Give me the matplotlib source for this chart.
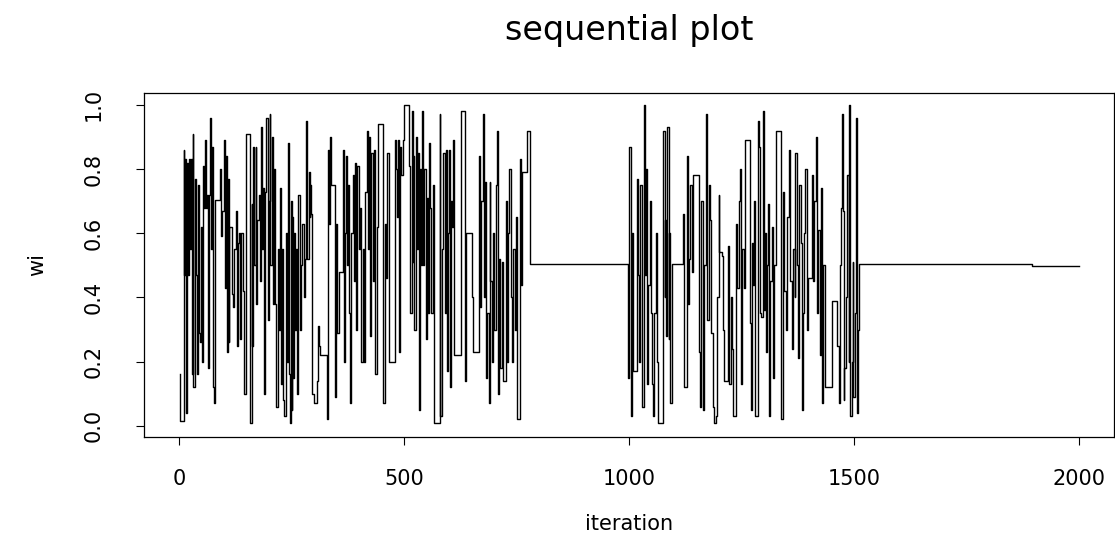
import matplotlib
matplotlib.use("Agg")
import matplotlib.pyplot as plt

# Step-plot data: iteration where each new value starts, and that value
change_iter = [
    1, 3, 10, 12, 14, 16, 18, 20, 22, 24, 26, 28, 30, 32, 35, 37, 40, 42, 45, 47,
    49, 51, 53, 55, 58, 60, 62, 64, 66, 69, 71, 73, 75, 77, 80, 92, 94, 96, 99, 101,
    104, 106, 108, 110, 112, 118, 120, 123, 126, 128, 131, 133, 135, 138, 141, 144, 148, 158, 161, 163,
    165, 167, 170, 172, 174, 177, 179, 182, 184, 186, 189, 191, 194, 197, 199, 201, 203, 206, 208, 211,
    213, 216, 219, 221, 224, 226, 229, 231, 234, 237, 239, 242, 244, 246, 248, 250, 252, 254, 256, 258,
    260, 262, 265, 268, 271, 274, 277, 280, 283, 285, 288, 290, 292, 294, 296, 299, 306, 308, 311, 313,
    328, 330, 333, 335, 337, 347, 349, 352, 355, 364, 366, 368, 371, 373, 376, 378, 380, 383, 386, 388,
    391, 394, 396, 399, 402, 405, 408, 411, 414, 417, 420, 422, 424, 427, 430, 433, 436, 439, 442, 454,
    457, 460, 463, 466, 479, 482, 485, 487, 489, 491, 494, 497, 499, 512, 514, 517, 519, 521, 523, 526,
    528, 530, 533, 536, 538, 541, 543, 545, 548, 551, 553, 556, 558, 561, 564, 567, 579, 581, 584, 587,
    590, 593, 595, 598, 600, 602, 604, 607, 609, 612, 627, 636, 638, 651, 653, 667, 669, 672, 675, 678,
    681, 683, 685, 688, 690, 692, 695, 698, 701, 704, 707, 709, 711, 714, 717, 719, 726, 728, 731, 734,
    737, 740, 743, 746, 749, 752, 757, 760, 763, 774, 779,
    998, 1001, 1004, 1007, 1009, 1018, 1021, 1023, 1025, 1028, 1030, 1033, 1035, 1038, 1041, 1043, 1046, 1049, 1051, 1053,
    1056, 1059, 1062, 1065, 1076, 1079, 1081, 1083, 1085, 1088, 1090, 1092, 1095, 1120, 1122, 1128, 1131, 1133, 1136, 1139,
    1142, 1155, 1158, 1161, 1164, 1167, 1171, 1174, 1177, 1180, 1183, 1186, 1188, 1193, 1196, 1199, 1201, 1207, 1210, 1212,
    1221, 1223, 1226, 1229, 1232, 1239, 1241, 1244, 1247, 1249, 1252, 1255, 1258, 1269, 1271, 1273, 1275, 1278, 1281, 1286,
    1289, 1291, 1293, 1297, 1300, 1302, 1304, 1307, 1309, 1311, 1314, 1317, 1320, 1323, 1327, 1337, 1339, 1342, 1345, 1349,
    1352, 1356, 1359, 1362, 1365, 1368, 1370, 1373, 1376, 1379, 1382, 1384, 1387, 1390, 1392, 1395, 1397, 1406, 1409, 1412,
    1415, 1418, 1421, 1424, 1426, 1428, 1431, 1435, 1451, 1463, 1466, 1469, 1471, 1473, 1475, 1477, 1479, 1482, 1485, 1488,
    1490, 1492, 1495, 1497, 1499, 1502, 1504, 1506, 1509, 1512, 1831, 1896, 2000,
]
change_val = [
    0.16, 0.015, 0.86, 0.47, 0.83, 0.04, 0.82, 0.47, 0.83, 0.55, 0.83, 0.16, 0.91, 0.12, 0.77, 0.47, 0.16, 0.75, 0.29, 0.26,
    0.62, 0.20, 0.81, 0.68, 0.89, 0.68, 0.72, 0.18, 0.72, 0.96, 0.55, 0.87, 0.12, 0.07, 0.705, 0.80, 0.59, 0.67, 0.89, 0.43,
    0.84, 0.23, 0.77, 0.26, 0.62, 0.41, 0.37, 0.55, 0.67, 0.25, 0.57, 0.60, 0.27, 0.60, 0.42, 0.10, 0.91, 0.01, 0.69, 0.25,
    0.87, 0.50, 0.87, 0.38, 0.64, 0.72, 0.45, 0.93, 0.55, 0.74, 0.10, 0.73, 0.96, 0.33, 0.70, 0.97, 0.50, 0.90, 0.38, 0.80,
    0.38, 0.06, 0.55, 0.30, 0.74, 0.13, 0.55, 0.08, 0.03, 0.60, 0.20, 0.88, 0.16, 0.01, 0.70, 0.05, 0.65, 0.15, 0.60, 0.30,
    0.55, 0.10, 0.72, 0.30, 0.50, 0.63, 0.40, 0.52, 0.95, 0.52, 0.79, 0.65, 0.75, 0.66, 0.10, 0.07, 0.14, 0.31, 0.25, 0.22,
    0.02, 0.86, 0.63, 0.90, 0.75, 0.09, 0.63, 0.29, 0.48, 0.86, 0.20, 0.60, 0.84, 0.50, 0.75, 0.35, 0.07, 0.60, 0.78, 0.45,
    0.82, 0.30, 0.81, 0.55, 0.68, 0.20, 0.55, 0.20, 0.73, 0.92, 0.55, 0.90, 0.28, 0.85, 0.45, 0.86, 0.16, 0.62, 0.94, 0.07,
    0.63, 0.46, 0.85, 0.20, 0.89, 0.80, 0.65, 0.89, 0.23, 0.87, 0.78, 0.89, 1.00, 0.81, 0.35, 0.98, 0.51, 0.84, 0.30, 0.90,
    0.55, 0.85, 0.05, 0.80, 0.50, 0.98, 0.50, 0.80, 0.27, 0.71, 0.35, 0.88, 0.68, 0.35, 0.75, 0.01, 0.97, 0.03, 0.55, 0.85,
    0.35, 0.86, 0.17, 0.60, 0.86, 0.12, 0.70, 0.62, 0.89, 0.22, 0.98, 0.14, 0.60, 0.40, 0.23, 0.84, 0.37, 0.70, 0.97, 0.40,
    0.76, 0.15, 0.35, 0.07, 0.76, 0.45, 0.20, 0.60, 0.30, 0.75, 0.92, 0.10, 0.52, 0.18, 0.51, 0.14, 0.70, 0.20, 0.60, 0.80,
    0.40, 0.20, 0.55, 0.30, 0.65, 0.02, 0.83, 0.44, 0.79, 0.92, 0.503,
    0.15, 0.87, 0.03, 0.60, 0.17, 0.77, 0.47, 0.20, 0.75, 0.30, 0.06, 1.00, 0.47, 0.80, 0.13, 0.44, 0.70, 0.35, 0.13, 0.03,
    0.35, 0.60, 0.20, 0.01, 0.92, 0.40, 0.64, 0.28, 0.93, 0.27, 0.60, 0.07, 0.503, 0.66, 0.12, 0.84, 0.38, 0.52, 0.75, 0.48,
    0.78, 0.23, 0.06, 0.70, 0.05, 0.50, 0.97, 0.33, 0.75, 0.64, 0.29, 0.06, 0.01, 0.03, 0.40, 0.72, 0.54, 0.53, 0.30, 0.14,
    0.56, 0.13, 0.40, 0.24, 0.03, 0.63, 0.43, 0.70, 0.80, 0.13, 0.55, 0.43, 0.89, 0.32, 0.05, 0.57, 0.44, 0.70, 0.03, 0.95,
    0.87, 0.35, 0.34, 0.98, 0.36, 0.60, 0.23, 0.50, 0.69, 0.03, 0.45, 0.62, 0.15, 0.50, 0.92, 0.58, 0.02, 0.73, 0.42, 0.30,
    0.65, 0.86, 0.45, 0.24, 0.55, 0.40, 0.85, 0.50, 0.21, 0.75, 0.57, 0.05, 0.35, 0.60, 0.80, 0.30, 0.46, 0.78, 0.45, 0.70,
    0.90, 0.35, 0.61, 0.22, 0.74, 0.07, 0.50, 0.12, 0.39, 0.25, 0.07, 0.50, 0.68, 0.97, 0.67, 0.08, 0.18, 0.40, 0.78, 0.20,
    1.00, 0.03, 0.20, 0.51, 0.09, 0.35, 0.96, 0.04, 0.30, 0.503, 0.505, 0.498, 0.498,
]

x_ticks = [0, 500, 1000, 1500, 2000]
x_tick_labels = ["0", "500", "1000", "1500", "2000"]
y_ticks = [0.0, 0.2, 0.4, 0.6, 0.8, 1.0]
y_tick_labels = ["0.0", "0.2", "0.4", "0.6", "0.8", "1.0"]

plt.rcParams["font.family"] = ["DejaVu Sans"]

fig = plt.figure(figsize=(11.15, 5.4), dpi=100)
W, H = 1115, 540
left, right, top, bottom = 144, 1113.5, 93, 437
ax = fig.add_axes([left / W, 1 - bottom / H, (right - left) / W, (bottom - top) / H])

ax.plot(change_iter, change_val, drawstyle="steps-post", color="black", lw=1.0)

ax.set_xlim(-78, 2077)
ax.set_ylim(-0.035, 1.037)

ax.set_xticks(x_ticks)
ax.set_xticklabels(x_tick_labels)
ax.set_yticks(y_ticks)
ax.set_yticklabels(y_tick_labels, rotation=90, va="center")

ax.tick_params(axis="both", direction="out", length=6, width=0.8, labelsize=15, colors="black")
ax.tick_params(axis="x", pad=17)
ax.tick_params(axis="y", pad=23)
for s in ax.spines.values():
    s.set_linewidth(0.9)
    s.set_color("black")

ax.set_xlabel("iteration", fontsize=15, labelpad=18)
ax.set_ylabel("wi", fontsize=15, labelpad=26)
ax.set_title("sequential plot", fontsize=24, pad=38)

fig.savefig("out.png", dpi=100)
